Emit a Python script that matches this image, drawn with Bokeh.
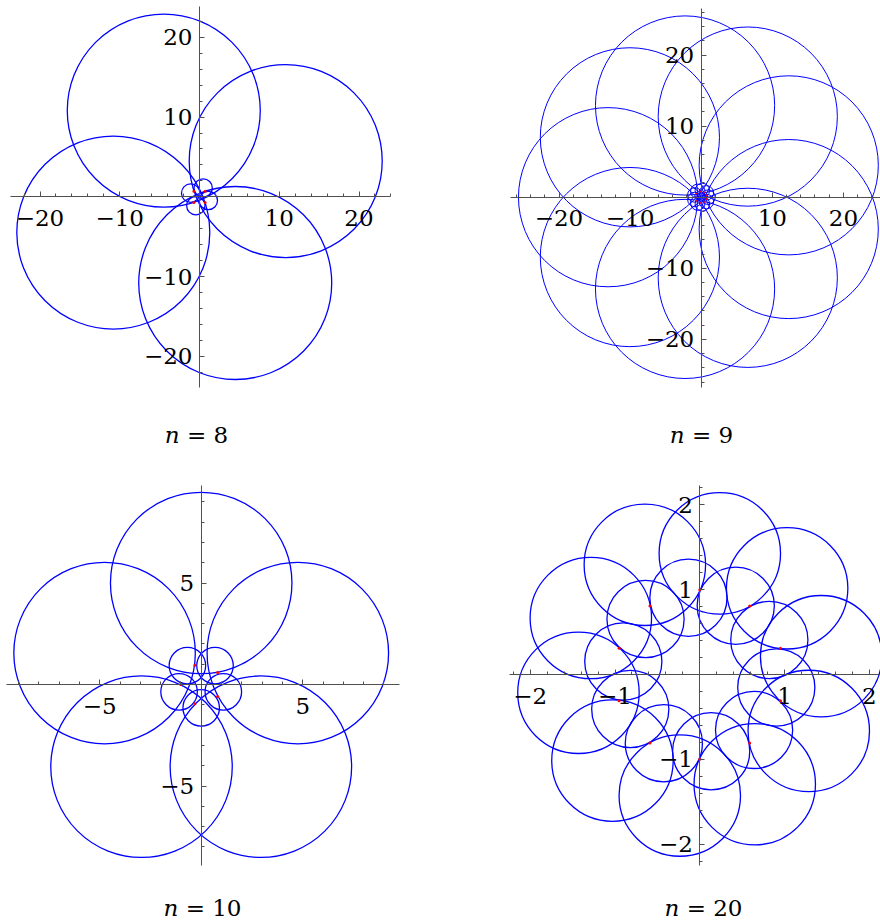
import numpy as np
from bokeh.plotting import figure
from bokeh.models import FixedTicker, Range1d
from bokeh.layouts import column, row
from bokeh.embed import file_html
from bokeh.resources import INLINE
from bokeh.core.properties import value

# ---------------- data ----------------
n_values = [8, 9, 10, 20]

# n = 8
n8_big_x = [10.81, -4.48, -10.81, 4.48]
n8_big_y = [4.48, 10.81, -4.48, -10.81]
n8_big_r = [12.1, 12.1, 12.1, 12.1]
n8_small_x = [0.46, -1.11, -0.46, 1.11]
n8_small_y = [1.11, 0.46, -1.11, -0.46]
n8_small_r = [1.15, 1.15, 1.15, 1.15]
n8_red_x = [0.71, -0.71, -0.71, 0.71]
n8_red_y = [0.71, 0.71, -0.71, -0.71]

# n = 9
n9_big_x = [12.31, 6.55, -2.27, -10.03, -13.10, -10.03, -2.27, 6.55, 12.31]
n9_big_y = [4.48, 11.34, 12.90, 8.42, 0.00, -8.42, -12.90, -11.34, -4.48]
n9_big_r = [12.6, 12.6, 12.6, 12.6, 12.6, 12.6, 12.6, 12.6, 12.6]
n9_small_x = [0.95, 0.73, 0.16, -0.48, -0.89, -0.89, -0.48, 0.16, 0.73]
n9_small_y = [0.00, 0.61, 0.94, 0.82, 0.32, -0.32, -0.82, -0.94, -0.61]
n9_small_r = [1.02, 1.02, 1.02, 1.02, 1.02, 1.02, 1.02, 1.02, 1.02]
n9_red_x = [0.75, 0.40, -0.14, -0.61, -0.80, -0.61, -0.14, 0.40, 0.75]
n9_red_y = [0.27, 0.69, 0.79, 0.51, 0.00, -0.51, -0.79, -0.69, -0.27]

# n = 10
n10_big_x = [4.76, 0.00, -4.76, -2.94, 2.94]
n10_big_y = [1.55, 5.00, 1.55, -4.05, -4.05]
n10_big_r = [4.47, 4.47, 4.47, 4.47, 4.47]
n10_small_x = [0.68, -0.68, -1.09, 0.00, 1.09]
n10_small_y = [0.93, 0.93, -0.36, -1.15, -0.36]
n10_small_r = [0.90, 0.90, 0.90, 0.90, 0.90]
n10_red_x = [0.81, -0.31, -1.00, -0.31, 0.81]
n10_red_y = [0.59, 0.95, 0.00, -0.95, -0.59]

# n = 20
n20_big_x = [1.431, 1.030, 0.236, -0.648, -1.285, -1.431, -1.030, -0.236, 0.648, 1.285]
n20_big_y = [0.216, 1.016, 1.428, 1.294, 0.666, -0.216, -1.016, -1.428, -1.294, -0.666]
n20_big_r = [0.716, 0.716, 0.716, 0.716, 0.716, 0.716, 0.716, 0.716, 0.716, 0.716]
n20_small_x = [0.820, 0.424, -0.134, -0.640, -0.902, -0.820, -0.424, 0.134, 0.640, 0.902]
n20_small_y = [0.407, 0.811, 0.905, 0.654, 0.153, -0.407, -0.811, -0.905, -0.654, -0.153]
n20_small_r = [0.455, 0.455, 0.455, 0.455, 0.455, 0.455, 0.455, 0.455, 0.455, 0.455]
n20_red_x = [0.951, 0.588, 0.000, -0.588, -0.951, -0.951, -0.588, 0.000, 0.588, 0.951]
n20_red_y = [0.309, 0.809, 1.000, 0.809, 0.309, -0.309, -0.809, -1.000, -0.809, -0.309]

# ticks and tick labels
n8_ticks = [-20, -10, 10, 20]
n8_tick_labels = ["\u221220", "\u221210", "10", "20"]
n9_ticks = [-20, -10, 10, 20]
n9_tick_labels = ["\u221220", "\u221210", "10", "20"]
n10_ticks = [-5, 5]
n10_tick_labels = ["\u22125", "5"]
n20_ticks = [-2, -1, 1, 2]
n20_tick_labels = ["\u22122", "\u22121", "1", "2"]

# ---------------- styling / layout ----------------
FONT = "DejaVu Serif"
FSIZE = "23px"
AXIS_COLOR = "#505050"
BLUE = "#0000ff"


def make_panel(n, box, origin, scale, xb, yb, big, small, red, red_size,
               ticks, tick_labels, minor_step, label_center, label_base, lw):
    x0, y0, w, h = box
    ox, oy = origin
    s = scale
    xr = Range1d((x0 - ox) / s, (x0 + w - ox) / s)
    yr = Range1d((oy - (y0 + h)) / s, (oy - y0) / s)
    p = figure(width=w, height=h, x_range=xr, y_range=yr,
               output_backend="svg", toolbar_location=None, tools="",
               min_border=0, outline_line_color=None,
               background_fill_color="white", border_fill_color="white")
    p.grid.visible = False

    for cx, cy, cr in (big, small):
        p.circle(x=cx, y=cy, radius=cr, fill_color=None,
                 line_color=BLUE, line_width=lw)
    p.scatter(x=red[0], y=red[1], size=red_size, marker="circle",
              fill_color="red", line_color=None)

    # axes crossing at the origin (Mathematica style)
    minor_x = [v for v in np.arange(-40, 40.0001, minor_step)
               if xb[0] <= v <= xb[1] and abs(v) > 1e-9]
    minor_y = [v for v in np.arange(-40, 40.0001, minor_step)
               if yb[0] <= v <= yb[1] and abs(v) > 1e-9]
    overrides = {t: l for t, l in zip(ticks, tick_labels)}
    for ax, bnd, mnr in ((p.xaxis[0], xb, minor_x), (p.yaxis[0], yb, minor_y)):
        ax.fixed_location = 0
        ax.bounds = bnd
        ax.ticker = FixedTicker(ticks=ticks, minor_ticks=mnr)
        ax.major_label_overrides = overrides
        ax.axis_line_color = AXIS_COLOR
        ax.axis_line_width = 1
        ax.major_tick_line_color = AXIS_COLOR
        ax.minor_tick_line_color = AXIS_COLOR
        ax.major_tick_in = 5
        ax.major_tick_out = 0
        ax.minor_tick_in = 3
        ax.minor_tick_out = 0
        ax.major_label_text_font = FONT
        ax.major_label_text_font_size = FSIZE
        ax.major_label_text_color = "black"
    p.xaxis.major_label_standoff = 13
    p.yaxis.major_label_standoff = 7

    # caption  "n = N"
    nd = len(str(n))
    total = 14.8 + 7.3 + 19.3 + 7.3 + 14.6 * nd
    P = label_center - total / 2 + 14.8
    lx = (P - ox) / s
    ly = (oy - label_base) / s
    p.text(x=[lx], y=[ly], text=["n"], text_font=value(FONT),
           text_font_style="italic", text_font_size=FSIZE,
           text_align="right", text_baseline="alphabetic", text_color="black")
    p.text(x=[lx], y=[ly], text=["= %d" % n], text_font=value(FONT),
           text_font_size=FSIZE, x_offset=7.3,
           text_align="left", text_baseline="alphabetic", text_color="black")
    return p


p1 = make_panel(n_values[0], (0, 0, 440, 464), (199.0, 196.3), 7.975,
                (-23.7, 24.0), (-23.9, 23.8),
                (n8_big_x, n8_big_y, n8_big_r), (n8_small_x, n8_small_y, n8_small_r),
                (n8_red_x, n8_red_y), 3, n8_ticks, n8_tick_labels, 2,
                196, 434.5, 1.3)
p2 = make_panel(n_values[1], (440, 0, 440, 464), (700.7, 196.7), 7.11,
                (-26.8, 26.8), (-26.7, 26.6),
                (n9_big_x, n9_big_y, n9_big_r), (n9_small_x, n9_small_y, n9_small_r),
                (n9_red_x, n9_red_y), 1.8, n9_ticks, n9_tick_labels, 2,
                701, 434.5, 1.0)
p3 = make_panel(n_values[2], (0, 464, 440, 456), (200.7, 684.0), 20.3,
                (-9.6, 9.77), (-8.93, 9.82),
                (n10_big_x, n10_big_y, n10_big_r), (n10_small_x, n10_small_y, n10_small_r),
                (n10_red_x, n10_red_y), 3, n10_ticks, n10_tick_labels, 1,
                202, 907.5, 1.3)
p4 = make_panel(n_values[3], (440, 464, 440, 456), (699.3, 674.0), 84.8,
                (-2.24, 2.3), (-2.25, 2.23),
                (n20_big_x, n20_big_y, n20_big_r), (n20_small_x, n20_small_y, n20_small_r),
                (n20_red_x, n20_red_y), 3, n20_ticks, n20_tick_labels, 0.2,
                703, 907.5, 1.3)

layout = column(row(p1, p2), row(p3, p4))
open("out.html", "w").write(file_html(layout, INLINE))
